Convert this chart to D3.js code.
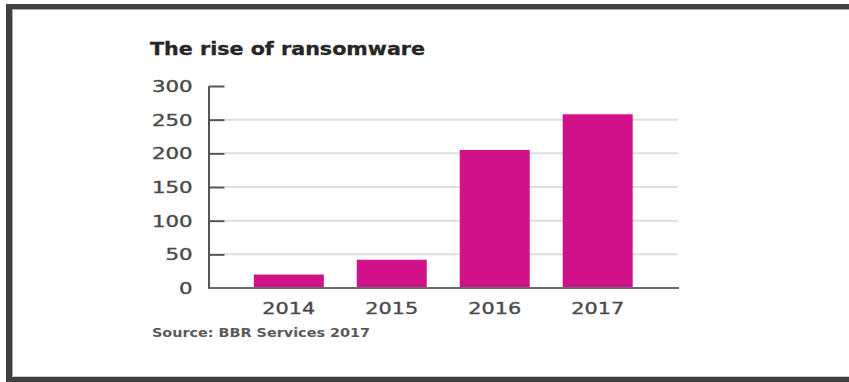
<!DOCTYPE html>
<html>
<head>
<meta charset="utf-8">
<script src="https://cdn.jsdelivr.net/npm/d3@7/dist/d3.min.js"></script>
<style>
  html, body { margin: 0; padding: 0; background: #fff; }
  svg { display: block; }
  text { font-family: "DejaVu Sans", "Liberation Sans", sans-serif; }
</style>
</head>
<body>
<svg id="chart" width="849" height="382"></svg>
<script>
// Ransomware counts per year
const years = ["2014", "2015", "2016", "2017"];
const counts = [20, 42, 205, 258];
const yTicks = [0, 50, 100, 150, 200, 250, 300];
const titleText = "The rise of ransomware";
const sourceText = "Source: BBR Services 2017";

const svg = d3.select("#chart");
const W = 849, H = 382;

// Frame around the panel (top, left and bottom edges)
const frame = svg.append("g");
frame.append("rect").attr("x", 6).attr("y", 4).attr("width", W - 6).attr("height", 5).attr("fill", "#404040");
frame.append("rect").attr("x", 6).attr("y", 4).attr("width", 6).attr("height", H - 4).attr("fill", "#404040");
frame.append("rect").attr("x", 6).attr("y", 377).attr("width", W - 6).attr("height", 5).attr("fill", "#404040");
frame.append("line").attr("x1", 12).attr("x2", W).attr("y1", 9.5).attr("y2", 9.5).attr("stroke", "#aaa").attr("stroke-width", 1);
frame.append("line").attr("x1", 12.5).attr("x2", 12.5).attr("y1", 9).attr("y2", 377).attr("stroke", "#aaa").attr("stroke-width", 1);
frame.append("line").attr("x1", 12).attr("x2", W).attr("y1", 376.5).attr("y2", 376.5).attr("stroke", "#ccc").attr("stroke-width", 1);

// Scales
const axisX = 208.5, plotRight = 678;
const y = d3.scaleLinear().domain([0, 300]).range([288, 86]);
const x = d3.scaleBand().domain(years).range([axisX, plotRight])
  .paddingInner(0.32).paddingOuter(0.44);

// Horizontal gridlines
svg.append("g").selectAll("line")
  .data(yTicks.filter(d => d > 0 && d < 300))
  .join("line")
  .attr("x1", axisX + 16).attr("x2", plotRight)
  .attr("y1", d => y(d)).attr("y2", d => y(d))
  .attr("stroke", "#dedede").attr("stroke-width", 2);

// Bars
svg.append("g").selectAll("rect")
  .data(counts)
  .join("rect")
  .attr("x", (d, i) => x(years[i]))
  .attr("width", x.bandwidth())
  .attr("y", d => y(d))
  .attr("height", d => y(0) - y(d))
  .attr("fill", "#cf1289");

// Baseline
svg.append("line")
  .attr("x1", axisX).attr("x2", plotRight + 1)
  .attr("y1", y(0)).attr("y2", y(0))
  .attr("stroke", "#6a6a6a").attr("stroke-width", 2);

// Y axis: vertical line, short inward ticks, labels on the left
const yAxis = d3.axisLeft(y).tickValues(yTicks).tickSize(-16).tickPadding(0).tickSizeOuter(0);
const gy = svg.append("g").attr("transform", `translate(${axisX},0)`).call(yAxis);
gy.select(".domain").attr("stroke", "#555").attr("stroke-width", 2);
gy.selectAll(".tick line").attr("stroke", "#555").attr("stroke-width", 2);
const ySX = 1.42;
gy.selectAll(".tick text")
  .attr("font-size", 15)
  .attr("font-family", "DejaVu Sans")
  .attr("fill", "#4a4a4a")
  .attr("stroke", "#4a4a4a").attr("stroke-width", 0.35)
  .attr("x", -16 / ySX)
  .attr("dy", "0.36em")
  .attr("transform", `scale(${ySX},1)`);
gy.selectAll(".tick").filter(d => d === 0).select("line").remove();

// X axis labels
const xAxis = d3.axisBottom(x).tickSize(0).tickPadding(0);
const gx = svg.append("g").attr("transform", `translate(0,${y(0)})`).call(xAxis);
gx.select(".domain").remove();
const xSX = 1.3;
gx.selectAll(".tick text")
  .attr("font-size", 16)
  .attr("font-family", "DejaVu Sans")
  .attr("fill", "#4a4a4a")
  .attr("stroke", "#4a4a4a").attr("stroke-width", 0.35)
  .attr("y", 26).attr("dy", 0)
  .attr("transform", `scale(${xSX},1)`);

// Title
svg.append("text")
  .attr("x", 150).attr("y", 55)
  .attr("font-size", 17).attr("font-weight", "bold")
  .attr("fill", "#262626")
  .attr("stroke", "#262626").attr("stroke-width", 0.3)
  .attr("textLength", 275).attr("lengthAdjust", "spacingAndGlyphs")
  .text(titleText);

// Source note
svg.append("text")
  .attr("x", 152).attr("y", 337)
  .attr("font-size", 11.5).attr("font-weight", "bold")
  .attr("fill", "#5a5a5a")
  .attr("textLength", 218).attr("lengthAdjust", "spacingAndGlyphs")
  .text(sourceText);
</script>
</body>
</html>
